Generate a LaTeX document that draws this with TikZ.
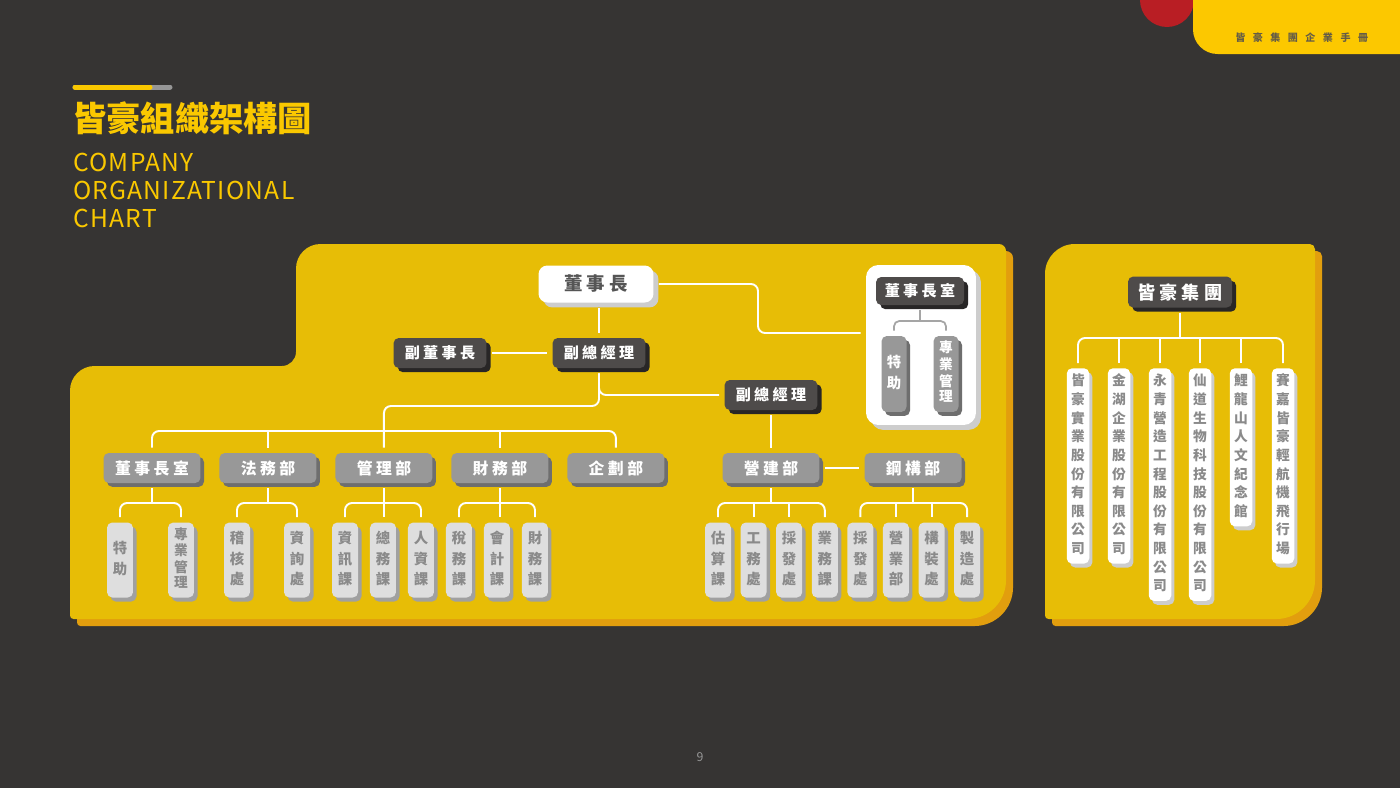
\documentclass[tikz,border=0pt]{standalone}
\usepackage{fontspec}
\setmainfont{Noto Sans CJK TC}
\newfontfamily\boxfont{Noto Sans CJK TC}[LetterSpace=22]
\newfontfamily\engfont{Noto Sans CJK TC}[LetterSpace=5]
\newfontfamily\tabfont{Noto Sans CJK TC}[LetterSpace=75]
\usetikzlibrary{positioning,shadows}

\definecolor{pagebg}{RGB}{54,52,51}
\definecolor{panelyel}{RGB}{231,189,6}
\definecolor{paneledge}{RGB}{226,158,14}
\definecolor{tabyel}{RGB}{252,200,0}
\definecolor{titleyel}{RGB}{250,200,0}
\definecolor{bargrey}{RGB}{150,150,150}
\definecolor{dotred}{RGB}{185,30,36}
\definecolor{tabtext}{RGB}{100,92,70}
\definecolor{darkbox}{RGB}{78,75,74}
\definecolor{darkrim}{RGB}{40,38,38}
\definecolor{midbox}{RGB}{152,152,152}
\definecolor{midrim}{RGB}{110,110,110}
\definecolor{lightbox}{RGB}{222,222,222}
\definecolor{lightrim}{RGB}{160,160,160}
\definecolor{softtext}{RGB}{138,138,138}
\definecolor{whiterim}{RGB}{205,205,205}
\definecolor{chairtext}{RGB}{85,85,85}
\definecolor{officeline}{RGB}{165,165,165}
\definecolor{pagenum}{RGB}{150,150,150}

\begin{document}
\begin{tikzpicture}[x=0.02cm, y=-0.02cm,
  wire/.style={draw=white, line width=1.1pt, rounded corners=4pt},
  officewire/.style={draw=officeline, line width=1pt, rounded corners=3pt},
  card/.style={rectangle, rounded corners=3pt, inner sep=0pt, outer sep=3pt, text=white},
  darkcard/.style={card, fill=darkbox, minimum width=1.86cm, minimum height=0.6cm, font=\boxfont\bfseries\fontsize{8.6}{10}\selectfont, general shadow={fill=darkrim, shadow xshift=2.4pt, shadow yshift=-2.4pt}},
  deptcard/.style={card, fill=midbox, minimum width=1.94cm, minimum height=0.6cm, font=\boxfont\bfseries\fontsize{9}{10}\selectfont, general shadow={fill=midrim, shadow xshift=2pt, shadow yshift=-2.2pt}},
  tallcard/.style={card, fill=lightbox, text=softtext, minimum width=0.52cm, minimum height=1.5cm, font=\bfseries\fontsize{8.2}{11.4}\selectfont, general shadow={fill=lightrim, shadow xshift=2pt, shadow yshift=-2.3pt}},
  officecard/.style={card, fill=midbox, minimum width=0.5cm, minimum height=1.52cm, font=\bfseries\fontsize{8.2}{11.4}\selectfont, general shadow={fill=midrim, shadow xshift=2pt, shadow yshift=-2.2pt}},
  firmcard/.style={card, anchor=north, fill=white, text=softtext, minimum width=0.45cm, inner ysep=2.6pt, font=\bfseries\fontsize{7.8}{10.6}\selectfont, general shadow={fill=whiterim, shadow xshift=1.8pt, shadow yshift=-2.2pt}},
  squeeze/.style={font=\bfseries\fontsize{7.8}{9}\selectfont}
]
\useasboundingbox (0,0) rectangle (1400,788);
\fill[pagebg] (0,0) rectangle (1400,788);

% corner tab
\fill[dotred] (1167,0) circle[radius=0.54cm];
\fill[tabyel, rounded corners=14pt] (1193,-40) -- (1193,54) -- (1440,54) -- (1440,-40) -- cycle;
\node[anchor=west, inner sep=0pt, text=tabtext, font=\tabfont\bfseries\fontsize{5.7}{7}\selectfont] (tab) at (1235,38) {皆豪集團企業手冊};

% title
\draw[bargrey, line width=0.1cm, line cap=round] (75,87) -- (170,87);
\draw[titleyel, line width=0.1cm, line cap=round] (75,87) -- (150,87);
\node[anchor=west, inner sep=0pt, text=titleyel, font=\bfseries\fontsize{19.5}{22}\selectfont] (title) at (72,118) {皆豪組織架構圖};
\node[anchor=north west, inner sep=0pt, align=left, text=titleyel, font=\engfont\fontsize{14}{15.9}\selectfont] (subtitle) at (73,153) {COMPANY\\ORGANIZATIONAL\\CHART};

% panels
\fill[panelyel, general shadow={fill=paneledge, shadow xshift=4pt, shadow yshift=-4pt}]
  (296,320) [rounded corners=14pt] -- (296,244) [rounded corners=4pt] -- (1006,244) [rounded corners=22pt] -- (1006,619) [rounded corners=2pt] -- (70,619) [rounded corners=14pt] -- (70,366) [rounded corners=8pt] -- (296,366) -- cycle;
\fill[panelyel, general shadow={fill=paneledge, shadow xshift=4pt, shadow yshift=-4pt}]
  (1045,400) [rounded corners=17pt] -- (1045,244) [rounded corners=3pt] -- (1315,244) [rounded corners=22pt] -- (1315,619) [rounded corners=2pt] -- (1045,619) -- cycle;

% top of the tree
\node[card, fill=white, text=chairtext, rounded corners=5pt, minimum width=2.3cm, minimum height=0.74cm, font=\boxfont\bfseries\fontsize{10.5}{12}\selectfont, general shadow={fill=whiterim, shadow xshift=2.8pt, shadow yshift=-2.8pt}] (ch) at (596,284) {董事長};
\node[darkcard] (gm1) at (599,353) {副總經理};
\node[darkcard] (vc) at (440,353) {副董事長};
\node[darkcard] (gm2) at (771,395) {副總經理};

% chairman's office
\node[card, fill=white, rounded corners=7pt, minimum width=2.2cm, minimum height=3.2cm, general shadow={fill=whiterim, shadow xshift=2.8pt, shadow yshift=-2.8pt}] (office) at (921,345) {};
\node[darkcard, minimum width=1.76cm, minimum height=0.56cm] (os) at (920,291) {董事長室};
\node[officecard] (oa) at (894,374) {\begin{tabular}{@{}c@{}}特\\助\end{tabular}};
\node[officecard, squeeze] (ob) at (946,374) {\begin{tabular}{@{}c@{}}專\\業\\管\\理\end{tabular}};

% departments
\node[deptcard] (d1) at (152,468) {董事長室};
\node[deptcard, right of = d1, node distance = 2.32cm] (d2) {法務部};
\node[deptcard, right of = d2, node distance = 2.32cm] (d3) {管理部};
\node[deptcard, right of = d3, node distance = 2.32cm] (d4) {財務部};
\node[deptcard, right of = d4, node distance = 2.32cm] (d5) {企劃部};
\node[deptcard] (d6) at (771,468) {營建部};
\node[deptcard] (d7) at (913,468) {鋼構部};

% sections
\node[tallcard] (s1) at (120,560) {\begin{tabular}{@{}c@{}}特\\助\end{tabular}};
\node[tallcard, squeeze] (s2) at (181,560) {\begin{tabular}{@{}c@{}}專\\業\\管\\理\end{tabular}};
\node[tallcard] (s3) at (237,560) {\begin{tabular}{@{}c@{}}稽\\核\\處\end{tabular}};
\node[tallcard] (s4) at (297,560) {\begin{tabular}{@{}c@{}}資\\詢\\處\end{tabular}};
\node[tallcard] (s5) at (345,560) {\begin{tabular}{@{}c@{}}資\\訊\\課\end{tabular}};
\node[tallcard, right of = s5, node distance = 0.76cm] (s6) {\begin{tabular}{@{}c@{}}總\\務\\課\end{tabular}};
\node[tallcard, right of = s6, node distance = 0.76cm] (s7) {\begin{tabular}{@{}c@{}}人\\資\\課\end{tabular}};
\node[tallcard, right of = s7, node distance = 0.76cm] (s8) {\begin{tabular}{@{}c@{}}稅\\務\\課\end{tabular}};
\node[tallcard, right of = s8, node distance = 0.76cm] (s9) {\begin{tabular}{@{}c@{}}會\\計\\課\end{tabular}};
\node[tallcard, right of = s9, node distance = 0.76cm] (s10) {\begin{tabular}{@{}c@{}}財\\務\\課\end{tabular}};
\node[tallcard] (s11) at (718,560) {\begin{tabular}{@{}c@{}}估\\算\\課\end{tabular}};
\node[tallcard, right of = s11, node distance = 0.712cm] (s12) {\begin{tabular}{@{}c@{}}工\\務\\處\end{tabular}};
\node[tallcard, right of = s12, node distance = 0.712cm] (s13) {\begin{tabular}{@{}c@{}}採\\發\\處\end{tabular}};
\node[tallcard, right of = s13, node distance = 0.712cm] (s14) {\begin{tabular}{@{}c@{}}業\\務\\課\end{tabular}};
\node[tallcard, right of = s14, node distance = 0.712cm] (s15) {\begin{tabular}{@{}c@{}}採\\發\\處\end{tabular}};
\node[tallcard, right of = s15, node distance = 0.712cm] (s16) {\begin{tabular}{@{}c@{}}營\\業\\部\end{tabular}};
\node[tallcard, right of = s16, node distance = 0.712cm] (s17) {\begin{tabular}{@{}c@{}}構\\裝\\處\end{tabular}};
\node[tallcard, right of = s17, node distance = 0.712cm] (s18) {\begin{tabular}{@{}c@{}}製\\造\\處\end{tabular}};

% group companies
\node[darkcard, minimum width=2.08cm, minimum height=0.62cm, font=\boxfont\bfseries\fontsize{10.3}{12}\selectfont] (grp) at (1180,292) {皆豪集團};
\node[firmcard] (f1) at (1078,363) {\begin{tabular}{@{}c@{}}皆\\豪\\實\\業\\股\\份\\有\\限\\公\\司\end{tabular}};
\node[firmcard] (f2) at (1119,363) {\begin{tabular}{@{}c@{}}金\\湖\\企\\業\\股\\份\\有\\限\\公\\司\end{tabular}};
\node[firmcard] (f3) at (1160,363) {\begin{tabular}{@{}c@{}}永\\青\\營\\造\\工\\程\\股\\份\\有\\限\\公\\司\end{tabular}};
\node[firmcard] (f4) at (1200,363) {\begin{tabular}{@{}c@{}}仙\\道\\生\\物\\科\\技\\股\\份\\有\\限\\公\\司\end{tabular}};
\node[firmcard] (f5) at (1241,363) {\begin{tabular}{@{}c@{}}鯉\\龍\\山\\人\\文\\紀\\念\\館\end{tabular}};
\node[firmcard] (f6) at (1283,363) {\begin{tabular}{@{}c@{}}賽\\嘉\\皆\\豪\\輕\\航\\機\\飛\\行\\場\end{tabular}};

\node[text=pagenum, font=\fontsize{7}{8}\selectfont] (pg) at (700,757) {9};

% connectors
\coordinate (bend) at (758,333);
\coordinate (split) at (599,406);
\coordinate (deptbar) at (0,431);
\coordinate (secbar) at (0,503);
\coordinate (officebar) at (0,321);
\coordinate (firmbar) at (0,338);

\draw[wire] (gm1.north) -- (gm1.north |- ch.south);
\draw[wire] (ch.east) -| (bend) -- (office.west |- bend);
\draw[wire] (vc) -- (gm1);
\draw[wire] (gm1.south) |- (gm2.west);
\draw[wire] (gm1.south) |- (d3.north |- split) -- (d3.north);
\draw[wire] (gm2) -- (d6);
\draw[wire] (d6) -- (d7);

\draw[wire] (d1.north) |- (d3.north |- deptbar) -| (d5.north);
\draw[wire] (d2.north) -- (d2.north |- deptbar);
\draw[wire] (d4.north) -- (d4.north |- deptbar);

\draw[wire] (d1.south) -- (d1.south |- secbar);
\draw[wire] (s1.north) |- (d1.south |- secbar) -| (s2.north);
\draw[wire] (d2.south) -- (d2.south |- secbar);
\draw[wire] (s3.north) |- (d2.south |- secbar) -| (s4.north);
\draw[wire] (d3.south) -- (d3.south |- s6.north);
\draw[wire] (s5.north) |- (s6.north |- secbar) -| (s7.north);
\draw[wire] (d4.south) -- (d4.south |- s9.north);
\draw[wire] (s8.north) |- (s9.north |- secbar) -| (s10.north);

\draw[wire] (d6.south) -- (d6.south |- secbar);
\draw[wire] (s11.north) |- (d6.south |- secbar) -| (s14.north);
\draw[wire] (s12.north) -- (s12.north |- secbar);
\draw[wire] (s13.north) -- (s13.north |- secbar);
\draw[wire] (d7.south) -- (d7.south |- secbar);
\draw[wire] (s15.north) |- (d7.south |- secbar) -| (s18.north);
\draw[wire] (s16.north) -- (s16.north |- secbar);
\draw[wire] (s17.north) -- (s17.north |- secbar);

\draw[officewire] (os.south) -- (os.south |- officebar);
\draw[officewire] (oa.north) |- (os.south |- officebar) -| (ob.north);

\draw[wire] (grp.south) -- (grp.south |- firmbar);
\draw[wire] (f1.north) |- (grp.south |- firmbar) -| (f6.north);
\draw[wire] (f2.north) -- (f2.north |- firmbar);
\draw[wire] (f3.north) -- (f3.north |- firmbar);
\draw[wire] (f4.north) -- (f4.north |- firmbar);
\draw[wire] (f5.north) -- (f5.north |- firmbar);
\end{tikzpicture}
\end{document}
